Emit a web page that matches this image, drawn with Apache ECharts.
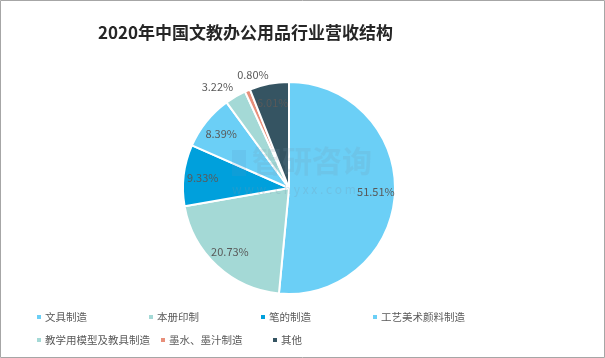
<!DOCTYPE html>
<html><head><meta charset="utf-8">
<script src="https://cdn.jsdelivr.net/npm/echarts@6/dist/echarts.min.js"></script>
<style>html,body{margin:0;padding:0;background:#fff}#c{width:605px;height:358px}</style>
</head><body><div id="c"></div>
<script>
const titleText = '2020年中国文教办公用品行业营收结构';
const categories = ['文具制造','本册印制','笔的制造','工艺美术颜料制造','教学用模型及教具制造','墨水、墨汁制造','其他'];
const values = [51.51, 20.73, 9.33, 8.39, 3.22, 0.80, 6.01];
const colors = ['#6BCFF6','#A4D9D6','#00A0DC','#6BCFF6','#A4D9D6','#E88F7A','#355462'];
const outsideIdx = [4, 5];
// small label nudges (styling only) for the two outside labels
const labelNudge = {4:[-6, 2], 5:[16, -3]};

const chart = echarts.init(document.getElementById('c'), null, {renderer:'canvas'});
const font = '"Noto Sans CJK SC","Microsoft YaHei",sans-serif';
const fmt = p => p.value.toFixed(2) + '%';
const labelStyle = {color:'#595959', fontSize:11, fontFamily:font};
const clear = 'rgba(0,0,0,0)';

const mainData = categories.map((n,i)=>({name:n, value:values[i], itemStyle:{color:colors[i]}}));
const innerLabelData = categories.map((n,i)=>({name:n, value:values[i],
  label:{show: outsideIdx.indexOf(i) < 0}}));
const outerLabelData = categories.map((n,i)=>({name:n, value:values[i],
  label:{show: outsideIdx.indexOf(i) >= 0}}));

chart.setOption({
  animation:false,
  backgroundColor:'#fff',
  title:{text:titleText, left:98, top:24, padding:0,
    textStyle:{fontSize:17, fontWeight:'bold', color:'#262626', fontFamily:font}},
  color: colors,
  legend:{left:35, top:310, width:470, padding:0, icon:'rect', itemWidth:6, itemHeight:6, itemGap:9,
    data: categories,
    textStyle:{fontSize:10.5, color:'#595959', fontFamily:font, width:93, lineHeight:14, padding:[0,0,0,-2]}},
  graphic:[
    {type:'rect', shape:{x:0.5,y:0.5,width:604,height:357}, style:{fill:'none', stroke:'#A6A6A6', lineWidth:1}, z:100},
    {type:'text', left:252, top:146, style:{text:'智研咨询', fill:'rgba(120,150,170,0.16)', font:'bold 30px '+font}, z:100},
    {type:'rect', shape:{x:232,y:150,width:14,height:26}, style:{fill:'rgba(90,150,200,0.16)'}, z:100},
    {type:'text', left:232, top:183, style:{text:'w w w . c h y x x . c o m', fill:'rgba(120,150,170,0.24)', font:'12px '+font}, z:100}
  ],
  series:[
    {type:'pie', name:'main', center:[289,188], radius:106, startAngle:90,
     itemStyle:{borderColor:'#fff', borderWidth:2},
     label:{show:false}, labelLine:{show:false}, silent:true,
     data: mainData},
    {type:'pie', name:'lblA', center:[289,188], radius:[62,106], startAngle:90,
     avoidLabelOverlap:false, minShowLabelAngle:0,
     itemStyle:{color:clear, borderWidth:0}, silent:true, legendHoverLink:false,
     label:Object.assign({position:'inside', formatter:fmt}, labelStyle), labelLine:{show:false},
     data: innerLabelData, z:3},
    {type:'pie', name:'lblB', center:[289,188], radius:106, startAngle:90,
     avoidLabelOverlap:false, minShowLabelAngle:0,
     itemStyle:{color:clear, borderWidth:0}, silent:true, legendHoverLink:false,
     label:Object.assign({position:'outside', formatter:fmt}, labelStyle),
     labelLine:{show:false, length:14, length2:0},
     labelLayout: p => {
       const n = labelNudge[p.dataIndex] || [0,0];
       return {align:'center', verticalAlign:'middle', dx:n[0], dy:n[1]};
     },
     data: outerLabelData, z:3}
  ]
});
</script></body></html>
